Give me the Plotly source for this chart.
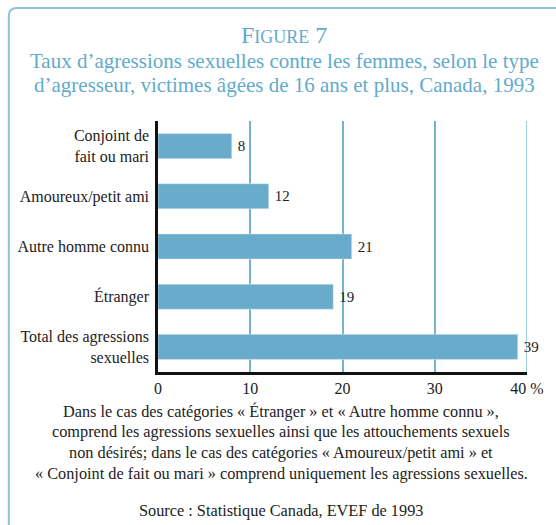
import plotly.graph_objects as go

# data
categories = ["Conjoint de<br>fait ou mari", "Amoureux/petit ami", "Autre homme connu",
              "Étranger", "Total des agressions<br>sexuelles"]
values = [8, 12, 21, 19, 39]
tick_vals = [0, 10, 20, 30, 40]
tick_labels = ["0", "10", "20", "30", "40 %"]

title_sub = ["Taux d’agressions sexuelles contre les femmes, selon le type",
             "d’agresseur, victimes âgées de 16 ans et plus, Canada, 1993"]
notes = ["Dans le cas des catégories « Étranger » et « Autre homme connu »,",
         "comprend les agressions sexuelles ainsi que les attouchements sexuels",
         "non désirés; dans le cas des catégories « Amoureux/petit ami » et",
         "« Conjoint de fait ou mari » comprend uniquement les agressions sexuelles."]
source = "Source : Statistique Canada, EVEF de 1993"

W, H = 556, 525
L, R, T, B = 158, 27, 121, 153
FONT = "Liberation Serif"
TEAL = "#62abcb"
BAR = "#69abca"


def px_x(p):
    return (p - L) / (W - L - R)


def px_y(p):
    return (H - B - p) / (H - T - B)


fig = go.Figure(go.Bar(
    x=values, y=categories, orientation="h",
    marker_color=BAR, width=0.5,
    text=values, texttemplate="\u2009%{x}", textposition="outside",
    cliponaxis=False, constraintext="none",
    textfont=dict(family=FONT, size=15, color="#222"),
))


def note(text, x, y, size, color):
    return dict(text=text, x=px_x(x), y=px_y(y), xref="paper", yref="paper",
                xanchor="center", yanchor="middle", showarrow=False,
                font=dict(family=FONT, size=size, color=color))


annotations = [note("F<span style='font-size:18px'>IGURE</span> 7", 285, 35, 24, TEAL)]
for i, line in enumerate(title_sub):
    annotations.append(note(line, 285, 61 + i * 24, 21, TEAL))
for i, line in enumerate(notes):
    annotations.append(note(line, 282, 411 + i * 20.7, 16.3, "#222"))
annotations.append(note(source, 282, 510, 16.3, "#222"))

# frame with rounded top-left corner, running off the right and bottom edges
x0, x1 = px_x(8), px_x(570)
yt, yb = px_y(8), px_y(540)
rx, ry = px_x(16) - px_x(8), px_y(8) - px_y(16)
frame = f"M {x0},{yb} L {x0},{yt - ry} Q {x0},{yt} {x0 + rx},{yt} L {x1},{yt}"

fig.update_layout(
    width=W, height=H,
    margin=dict(l=L, r=R, t=T, b=B),
    paper_bgcolor="white", plot_bgcolor="white",
    showlegend=False,
    font=dict(family=FONT, size=16, color="#222"),
    annotations=annotations,
    shapes=[
        dict(type="path", path=frame, xref="paper", yref="paper",
             line=dict(color="#8cc3d9", width=2)),
        # the last gridline is drawn lighter in the reference
        dict(type="line", xref="x", yref="paper", x0=tick_vals[-1], x1=tick_vals[-1],
             y0=0, y1=1, line=dict(color="#9dcee2", width=2), layer="below"),
    ],
    xaxis=dict(range=[0, 40], tickvals=tick_vals, ticktext=tick_labels,
               showgrid=True, gridcolor="#74b2ce", gridwidth=1.5, zeroline=False,
               showline=True, linecolor="#111", linewidth=2.5, ticks="",
               tickfont=dict(family=FONT, size=16, color="#222")),
    yaxis=dict(autorange="reversed", showgrid=False, showline=True, linecolor="#111",
               linewidth=2.5, ticks="", ticklabelstandoff=3,
               tickfont=dict(family=FONT, size=16, color="#222")),
)

# drop the page's default body margin so the figure sits at the window corner
fig.write_html("out.html", config={"displayModeBar": False},
               post_script="document.body.style.margin = '0';")
